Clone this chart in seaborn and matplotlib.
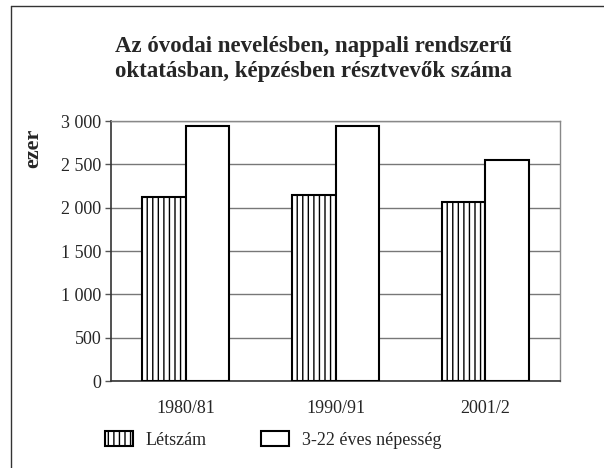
import matplotlib
matplotlib.use("Agg")
import matplotlib.pyplot as plt
from matplotlib.lines import Line2D
from matplotlib.patches import Patch
import pandas as pd
import seaborn as sns

years = ["1980/81", "1990/91", "2001/2"]
letszam = [2120, 2150, 2060]
nepesseg = [2940, 2945, 2555]
series = ["Létszám", "3-22 éves népesség"]
yticks = [0, 500, 1000, 1500, 2000, 2500, 3000]
ytick_labels = ["0", "500", "1 000", "1 500", "2 000", "2 500", "3 000"]

df = pd.DataFrame({
    "year": years * 2,
    "value": letszam + nepesseg,
    "series": [series[0]] * 3 + [series[1]] * 3,
})

sns.set_style("white")
plt.rcParams["font.family"] = ["Liberation Serif", "DejaVu Serif"]
plt.rcParams["hatch.linewidth"] = 1.0

fig = plt.figure(figsize=(6.04, 4.68), dpi=100)
ax = fig.add_axes([111 / 604, 1 - 381 / 468, 449 / 604, 260 / 468])

sns.barplot(data=df, x="year", y="value", hue="series", ax=ax,
            palette=["white", "white"], edgecolor="black", linewidth=1.5,
            width=0.58, legend=False, saturation=1)

for i, bar in enumerate(ax.patches):
    if i < 3:
        bar.set_hatch("|||")
    bar.set_zorder(3)

ax.set_ylim(0, 3000)
ax.set_yticks(yticks)
ax.set_yticklabels(ytick_labels, fontsize=13)
ax.tick_params(axis="x", labelsize=13, length=0, pad=14)
ax.tick_params(axis="y", length=4, width=1, color="#555555", left=True, pad=3)
ax.set_xlabel("")
ax.set_ylabel("")
ax.grid(axis="y", color="#777777", linewidth=1)
ax.set_axisbelow(True)
for side in ["left", "bottom"]:
    ax.spines[side].set_color("#333333")
    ax.spines[side].set_linewidth(1.2)
for side in ["right", "top"]:
    ax.spines[side].set_color("#888888")
    ax.spines[side].set_linewidth(1)

fig.text(313 / 604, 1 - 59 / 468,
         "Az óvodai nevelésben, nappali rendszerű\noktatásban, képzésben résztvevők száma",
         ha="center", va="center", fontsize=16.5, fontweight="bold", linespacing=1.3)
fig.text(33 / 604, 1 - 148 / 468, "ezer", rotation=90, ha="center", va="center",
         fontsize=16, fontweight="bold")

handles = [Patch(facecolor="white", edgecolor="black", hatch="|||", linewidth=1.5),
           Patch(facecolor="white", edgecolor="black", linewidth=1.5)]
fig.legend(handles, series, loc="center left", bbox_to_anchor=(89 / 604, 1 - 440 / 468),
           ncol=2, frameon=False, fontsize=13, handlelength=1.55, handleheight=0.9,
           columnspacing=3.0, handletextpad=0.7)

# partial frame like the scanned page
fig.add_artist(Line2D([11 / 604, 1], [1 - 6 / 468, 1 - 6 / 468], color="#333333", lw=1))
fig.add_artist(Line2D([11 / 604, 11 / 604], [0, 1 - 6 / 468], color="#333333", lw=1))

fig.savefig("out.png", dpi=100)
